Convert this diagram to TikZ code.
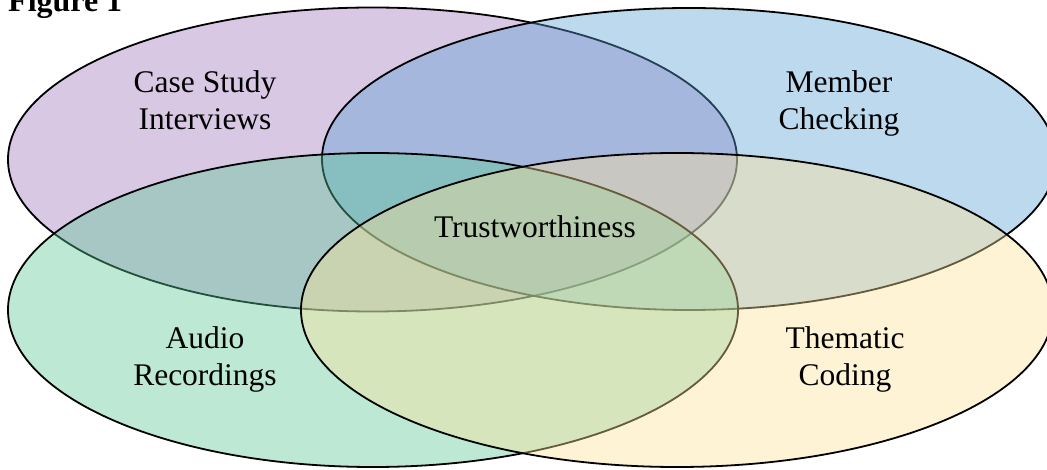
\documentclass[tikz,border=0pt]{standalone}
\usepackage{fontspec}
\setmainfont{Liberation Serif}
\usetikzlibrary{shapes.geometric}
\definecolor{cpurple}{RGB}{157,117,187}
\definecolor{cblue}{RGB}{90,160,212}
\definecolor{cgreen}{RGB}{90,200,148}
\definecolor{cyellow}{RGB}{255,225,152}
\tikzset{
  setshape/.style={ellipse, draw=black, line width=1.8bp, fill opacity=0.4, draw opacity=1, inner sep=0pt},
  lbl/.style={font=\fontsize{31.5bp}{37bp}\selectfont, align=center, anchor=base, inner sep=0pt, text=black}
}
\begin{document}
\begin{tikzpicture}[x=1bp,y=-1bp]
\useasboundingbox (0,0) rectangle (1047,470);
\node[setshape, fill=cpurple, minimum width=729bp, minimum height=304bp] (pset) at (372.5,159.5) {};
\node[setshape, fill=cblue, minimum width=734bp, minimum height=302bp] (bset) at (689,159) {};
\node[setshape, fill=cgreen, minimum width=730bp, minimum height=314bp] (gset) at (373,310) {};
\node[setshape, fill=cyellow, minimum width=752bp, minimum height=314bp] (yset) at (677,310) {};
\node[lbl] (case) at (205,130) {Case Study\\Interviews};
\node[lbl] (member) at (839,130) {Member\\Checking};
\node[lbl] (trust) at (535,238) {Trustworthiness};
\node[lbl] (audio) at (205,386) {Audio\\Recordings};
\node[lbl] (thematic) at (845,386) {Thematic\\Coding};
\node[font=\bfseries\fontsize{32bp}{38bp}\selectfont, anchor=base west, inner sep=0pt] (fig) at (8,12) {Figure 1};
\end{tikzpicture}
\end{document}
